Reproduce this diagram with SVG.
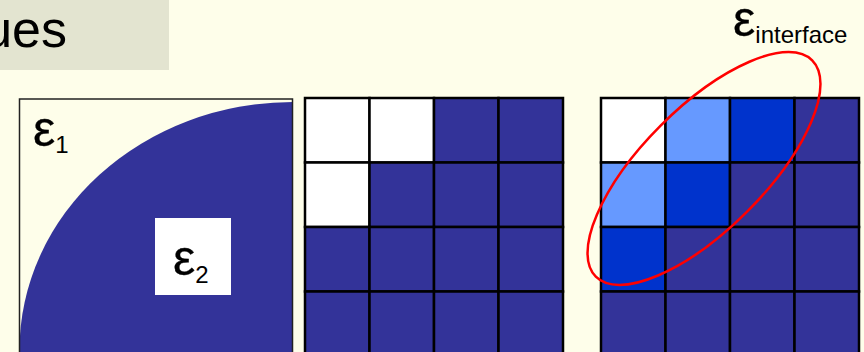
<svg xmlns="http://www.w3.org/2000/svg" width="864" height="352" viewBox="0 0 864 352">
<style>
  text { font-family: "Liberation Sans", Arial, sans-serif; fill: #000; }
  .eps { font-size: 50px; stroke: #000; stroke-width: 0.3; }
  .sub { font-size: 24px; stroke: none; }
  .cell { stroke: #000; stroke-width: 2.5; }
  .dk { fill: #333399; }
  .lt { fill: #6699FF; }
  .md { fill: #0033CC; }
  .wh { fill: #FFFFFF; }
</style>
<rect width="864" height="352" fill="#FEFEEA"/>
<g id="title">
  <rect x="0" y="0" width="169" height="70" fill="#E3E4D0"/>
  <text x="67" y="47" font-size="52" text-anchor="end">ues</text>
</g>
<g id="continuous">
  <path d="M292.5 102 A273.5 248 0 0 0 19.5 350 L19.5 359 L292.5 359 Z" fill="#333399"/>
  <rect x="19.5" y="99" width="273" height="260" fill="none" stroke="#222" stroke-width="1.5"/>
  <text x="33" y="146" class="eps">ε<tspan class="sub" dy="7">1</tspan></text>
  <rect x="155" y="218" width="76" height="77" fill="#FFFFFF"/>
  <text x="173" y="275" class="eps">ε<tspan class="sub" dy="8">2</tspan></text>
</g>
<g id="staircase">
  <rect class="cell wh" x="305" y="98" width="64.5" height="64.5"/>
  <rect class="cell wh" x="369.5" y="98" width="64.5" height="64.5"/>
  <rect class="cell dk" x="434" y="98" width="64.5" height="64.5"/>
  <rect class="cell dk" x="498.5" y="98" width="64.5" height="64.5"/>
  <rect class="cell wh" x="305" y="162.5" width="64.5" height="64.5"/>
  <rect class="cell dk" x="369.5" y="162.5" width="64.5" height="64.5"/>
  <rect class="cell dk" x="434" y="162.5" width="64.5" height="64.5"/>
  <rect class="cell dk" x="498.5" y="162.5" width="64.5" height="64.5"/>
  <rect class="cell dk" x="305" y="227" width="64.5" height="64.5"/>
  <rect class="cell dk" x="369.5" y="227" width="64.5" height="64.5"/>
  <rect class="cell dk" x="434" y="227" width="64.5" height="64.5"/>
  <rect class="cell dk" x="498.5" y="227" width="64.5" height="64.5"/>
  <rect class="cell dk" x="305" y="291.5" width="64.5" height="64.5"/>
  <rect class="cell dk" x="369.5" y="291.5" width="64.5" height="64.5"/>
  <rect class="cell dk" x="434" y="291.5" width="64.5" height="64.5"/>
  <rect class="cell dk" x="498.5" y="291.5" width="64.5" height="64.5"/>
</g>
<g id="averaged">
  <rect class="cell wh" x="601" y="98" width="64.5" height="64.5"/>
  <rect class="cell lt" x="665.5" y="98" width="64.5" height="64.5"/>
  <rect class="cell md" x="730" y="98" width="64.5" height="64.5"/>
  <rect class="cell dk" x="794.5" y="98" width="64.5" height="64.5"/>
  <rect class="cell lt" x="601" y="162.5" width="64.5" height="64.5"/>
  <rect class="cell md" x="665.5" y="162.5" width="64.5" height="64.5"/>
  <rect class="cell dk" x="730" y="162.5" width="64.5" height="64.5"/>
  <rect class="cell dk" x="794.5" y="162.5" width="64.5" height="64.5"/>
  <rect class="cell md" x="601" y="227" width="64.5" height="64.5"/>
  <rect class="cell dk" x="665.5" y="227" width="64.5" height="64.5"/>
  <rect class="cell dk" x="730" y="227" width="64.5" height="64.5"/>
  <rect class="cell dk" x="794.5" y="227" width="64.5" height="64.5"/>
  <rect class="cell dk" x="601" y="291.5" width="64.5" height="64.5"/>
  <rect class="cell dk" x="665.5" y="291.5" width="64.5" height="64.5"/>
  <rect class="cell dk" x="730" y="291.5" width="64.5" height="64.5"/>
  <rect class="cell dk" x="794.5" y="291.5" width="64.5" height="64.5"/>
</g>
<g id="interface">
  <ellipse cx="704" cy="168.5" rx="153" ry="61" transform="rotate(-45 704 168.5)" fill="none" stroke="#FF0000" stroke-width="2.5"/>
  <text x="733" y="36" class="eps">ε<tspan class="sub" dy="7">interface</tspan></text>
</g>
</svg>
